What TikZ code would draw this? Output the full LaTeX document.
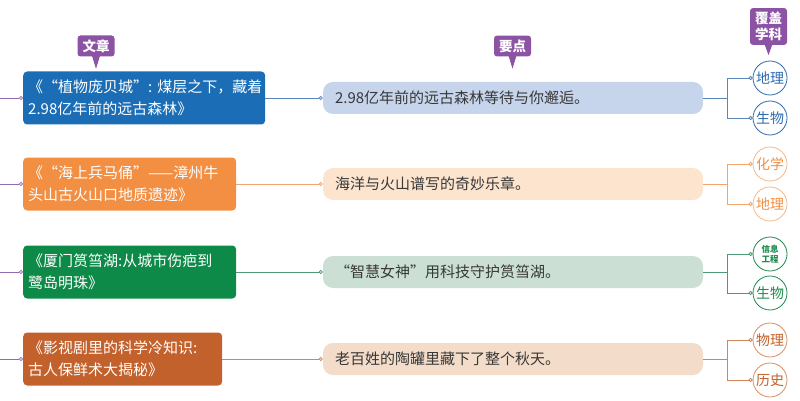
\documentclass[tikz,border=0pt]{standalone}
\usepackage{fontspec}
\setmainfont{Noto Sans CJK SC}
\usepackage{xcolor}
\usetikzlibrary{arrows.meta}

\definecolor{tagpurple}{HTML}{8C52A4}
\definecolor{stubline}{HTML}{8E6BB0}
\definecolor{blueT}{HTML}{1B6EB5}
\definecolor{orangeT}{HTML}{F28F43}
\definecolor{greenT}{HTML}{0E8A48}
\definecolor{brownT}{HTML}{C3612C}
\definecolor{blueP}{HTML}{C6D5EC}
\definecolor{orangeP}{HTML}{FCE4CF}
\definecolor{greenP}{HTML}{CCDFD4}
\definecolor{brownP}{HTML}{F3DCC9}
\definecolor{blueL}{HTML}{5B86B8}
\definecolor{orangeL}{HTML}{F2A46B}
\definecolor{greenL}{HTML}{4E9A72}
\definecolor{brownL}{HTML}{D0855A}
\definecolor{blueC}{HTML}{2C6BAF}
\definecolor{orangeC}{HTML}{F4B98C}
\definecolor{greenC}{HTML}{1D8A4E}
\definecolor{brownC}{HTML}{DB8E5E}

\begin{document}
\begin{tikzpicture}[
  x=1pt, y=-1pt,
  title/.style={rounded corners=4pt,text=white,align=left,anchor=west,
    inner xsep=5pt,minimum height=53pt,font=\fontsize{15}{21.5}\selectfont},
  point/.style={rounded corners=10pt,text=black!78,align=left,
    inner xsep=12pt,text width=356pt,minimum height=32pt,
    font=\fontsize{15}{17}\selectfont},
  subj/.style={circle,draw,fill=white,line width=0.8pt,minimum size=34pt,
    inner sep=0pt,font=\fontsize{14}{14}\selectfont},
  tag/.style={fill=tagpurple,rounded corners=3pt,text=white,align=center,
    inner xsep=5pt,inner ysep=4pt,font=\bfseries\fontsize{13.5}{16}\selectfont},
  link/.style={-{Circle[open,length=4pt]},line width=0.8pt}
]
\useasboundingbox (0,0) rectangle (800,401);

% column tags
\node[tag] (tA) at (96,46) {文章};
\node[tag] (tB) at (512.5,46) {要点};
\node[tag] (tC) at (768.5,26.5) {覆盖\\学科};
\fill[tagpurple] (tA.south) ++(-4,-1) -- ++(4,13) -- ++(4,-13) -- cycle;
\fill[tagpurple] (tB.south) ++(-4,-1) -- ++(4,13) -- ++(4,-13) -- cycle;
\fill[tagpurple] (tC.south) ++(-4,-1) -- ++(4,11) -- ++(4,-11) -- cycle;

% articles
\node[title,fill=blueT,text width=232pt] (lb1) at (23,98)
  {《“植物庞贝城”:~煤层之下，藏着\\2.98亿年前的远古森林》};
\node[title,fill=orangeT,text width=203pt] (lb2) at (23,184)
  {《“海上兵马俑”——漳州牛\\头山古火山口地质遗迹》};
\node[title,fill=greenT,text width=203pt] (lb3) at (23,272)
  {《厦门筼筜湖:从城市伤疤到\\鹭岛明珠》};
\node[title,fill=brownT,text width=189pt] (lb4) at (23,359)
  {《影视剧里的科学冷知识:\\古人保鲜术大揭秘》};

% key points
\node[point,fill=blueP] (mb1) at (513,98) {2.98亿年前的远古森林等待与你邂逅。};
\node[point,fill=orangeP] (mb2) at (513,184) {海洋与火山谱写的奇妙乐章。};
\node[point,fill=greenP] (mb3) at (513,272) {“智慧女神”用科技守护筼筜湖。};
\node[point,fill=brownP] (mb4) at (513,359) {老百姓的陶罐里藏下了整个秋天。};

% subjects
\node[subj,draw=blueC,text=blueC] (c11) at (770,78) {地理};
\node[subj,draw=blueC,text=blueC] (c12) at (770,118) {生物};
\node[subj,draw=orangeC,text=orangeT] (c21) at (770,164) {化学};
\node[subj,draw=orangeC,text=orangeT] (c22) at (770,204) {地理};
\node[subj,draw=greenC,text=greenC,align=center,
  font=\bfseries\fontsize{8.5}{10}\selectfont] (c31) at (770,254) {信息\\工程};
\node[subj,draw=greenC,text=greenC] (c32) at (770,293) {生物};
\node[subj,draw=brownC,text=brownT] (c41) at (770,340) {物理};
\node[subj,draw=brownC,text=brownT] (c42) at (770,380) {历史};

% left stubs
\foreach \r/\yy in {1/98,2/184,3/272,4/359}{
  \coordinate (s\r) at (0,\yy);
  \draw[link,stubline] (s\r) -- (lb\r.west);
}

\draw[link,blueL] (lb1.east) -- (mb1.west);
\draw[link,orangeL] (lb2.east) -- (mb2.west);
\draw[link,greenL] (lb3.east) -- (mb3.west);
\draw[link,brownL] (lb4.east) -- (mb4.west);

\draw[link,blueL] (mb1.east) -- ++(24,0) |- (c11.west);
\draw[link,blueL] (mb1.east) -- ++(24,0) |- (c12.west);
\draw[link,orangeL] (mb2.east) -- ++(24,0) |- (c21.west);
\draw[link,orangeL] (mb2.east) -- ++(24,0) |- (c22.west);
\draw[link,greenL] (mb3.east) -- ++(24,0) |- (c31.west);
\draw[link,greenL] (mb3.east) -- ++(24,0) |- (c32.west);
\draw[link,brownL] (mb4.east) -- ++(24,0) |- (c41.west);
\draw[link,brownL] (mb4.east) -- ++(24,0) |- (c42.west);
\end{tikzpicture}
\end{document}
